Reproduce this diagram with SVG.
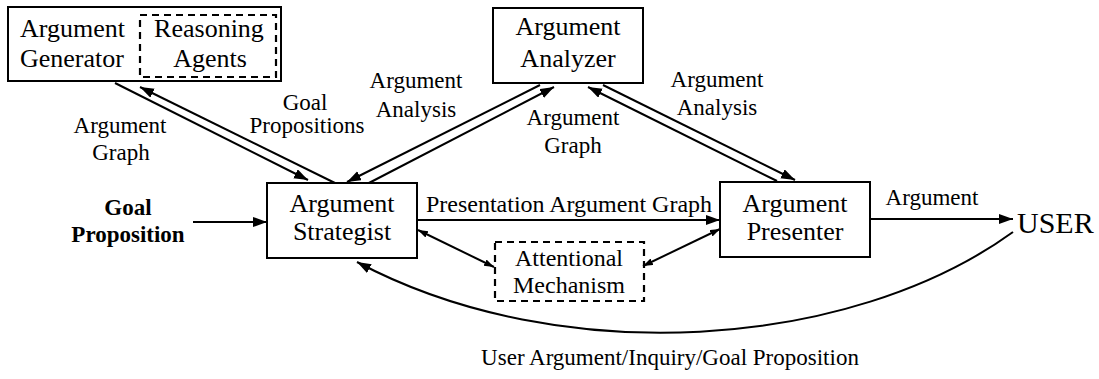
<svg xmlns="http://www.w3.org/2000/svg" width="1099" height="379" viewBox="0 0 1099 379">
<style>
.box{fill:#fff;stroke:#000;stroke-width:2}
.dash{fill:none;stroke:#000;stroke-width:2.2;stroke-dasharray:7 5}
.t{font-family:"Liberation Serif","Times New Roman",serif;font-size:26px;fill:#000}
.l{font-family:"Liberation Serif","Times New Roman",serif;font-size:23px;fill:#000;text-anchor:middle}
.c{text-anchor:middle}
.b{font-weight:bold}
.ln{fill:none;stroke:#000;stroke-width:2}
</style>
<defs>
<marker id="ah" markerUnits="userSpaceOnUse" markerWidth="16" markerHeight="12" refX="14" refY="5" orient="auto"><path d="M0,0 L14,5 L0,10 z" fill="#000"/></marker>
<marker id="sh" markerUnits="userSpaceOnUse" markerWidth="12" markerHeight="10" refX="10" refY="3.5" orient="auto-start-reverse"><path d="M0,0 L10,3.5 L0,7 z" fill="#000"/></marker>
</defs>
<rect width="1099" height="379" fill="#fff"/>
<g id="connectors">
<line class="ln" x1="115" y1="83" x2="308" y2="180" marker-end="url(#ah)"/>
<line class="ln" x1="337" y1="184" x2="140" y2="87" marker-end="url(#ah)"/>
<line class="ln" x1="540" y1="85" x2="347" y2="182" marker-end="url(#ah)"/>
<line class="ln" x1="367" y1="184" x2="554" y2="87" marker-end="url(#ah)"/>
<line class="ln" x1="777" y1="181" x2="588" y2="87" marker-end="url(#ah)"/>
<line class="ln" x1="603" y1="85" x2="795" y2="180" marker-end="url(#ah)"/>
<line class="ln" x1="193" y1="222" x2="267" y2="222" marker-end="url(#ah)"/>
<line class="ln" x1="417" y1="220" x2="720" y2="220" marker-end="url(#ah)"/>
<line class="ln" x1="870" y1="219" x2="1013" y2="219" marker-end="url(#ah)"/>
<line class="ln" x1="418" y1="230" x2="494" y2="267" marker-start="url(#sh)" marker-end="url(#sh)"/>
<line class="ln" x1="643" y1="266" x2="720" y2="229" marker-start="url(#sh)" marker-end="url(#sh)"/>
<path class="ln" d="M1013,232 C850,350 560,370 357,262" marker-end="url(#ah)"/>
<text class="l" x="120" y="133">Argument</text>
<text class="l" x="121" y="160">Graph</text>
<text class="l" x="305" y="110">Goal</text>
<text class="l" x="307" y="133">Propositions</text>
<text class="l" x="416" y="88">Argument</text>
<text class="l" x="416" y="117">Analysis</text>
<text class="l" x="573" y="125">Argument</text>
<text class="l" x="573" y="153">Graph</text>
<text class="l" x="717" y="87">Argument</text>
<text class="l" x="717" y="115">Analysis</text>
<text class="l" x="569" y="212" style="font-size:24px">Presentation Argument Graph</text>
<text class="l" x="932" y="205">Argument</text>
<text class="l" x="670" y="365">User Argument/Inquiry/Goal Proposition</text>
</g>
<g id="generator">
<rect class="box" x="8" y="7" width="273" height="74"/>
<text class="t" x="20" y="37">Argument</text>
<text class="t" x="20" y="67">Generator</text>
</g>
<g id="reasoning">
<rect class="dash" x="140" y="15" width="136" height="62"/>
<text class="t c" x="209" y="37">Reasoning</text>
<text class="t c" x="210" y="67">Agents</text>
</g>
<g id="analyzer">
<rect class="box" x="493" y="8" width="150" height="75"/>
<text class="t c" x="568" y="35">Argument</text>
<text class="t c" x="568" y="67">Analyzer</text>
</g>
<g id="strategist">
<rect class="box" x="267" y="183" width="150" height="75"/>
<text class="t c" x="342" y="212">Argument</text>
<text class="t c" x="342" y="240">Strategist</text>
</g>
<g id="presenter">
<rect class="box" x="720" y="182" width="150" height="75"/>
<text class="t c" x="795" y="212">Argument</text>
<text class="t c" x="795" y="240">Presenter</text>
</g>
<g id="attentional">
<rect class="dash" x="495" y="242" width="149" height="59"/>
<text class="t c" x="569" y="266" style="font-size:24px">Attentional</text>
<text class="t c" x="569" y="293" style="font-size:24px">Mechanism</text>
</g>
<g id="goal">
<text class="t c b" x="128" y="215" style="font-size:23px">Goal</text>
<text class="t c b" x="128" y="242" style="font-size:23px">Proposition</text>
</g>
<g id="user">
<text class="t" x="1017" y="233" style="font-size:30px">USER</text>
</g>
</svg>
